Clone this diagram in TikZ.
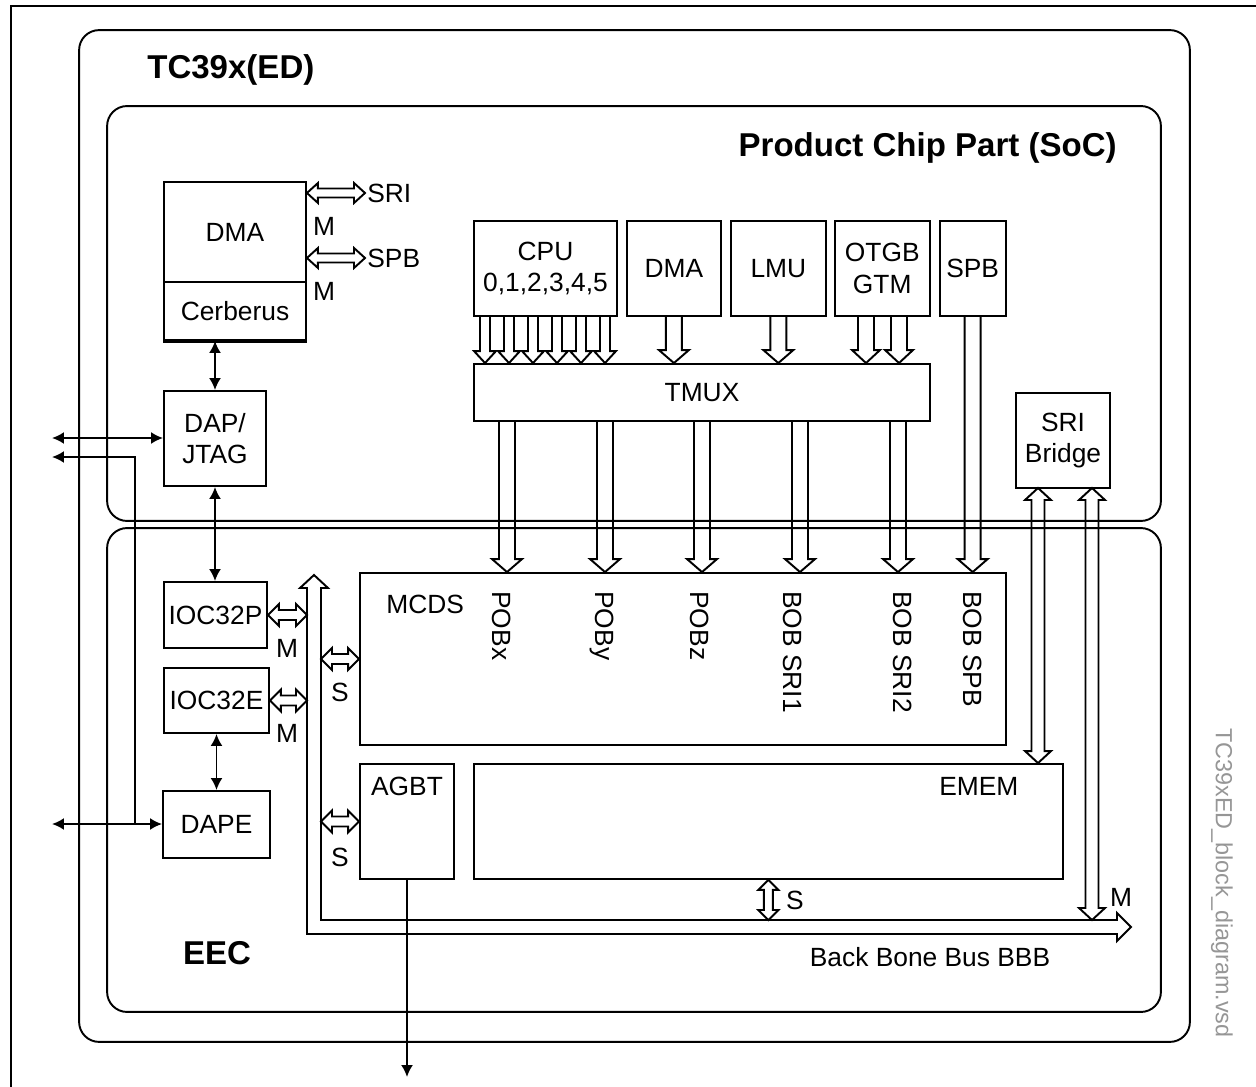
\documentclass[tikz,border=0pt]{standalone}
\usepackage{fontspec}
\setmainfont{Liberation Sans}
\usetikzlibrary{positioning, arrows.meta, calc}
\definecolor{vsdgray}{RGB}{150,150,150}
\tikzset{block/.style={rectangle, draw, line width=1.1pt, inner sep=0pt, text centered, align=center}}
\tikzset{area/.style={rectangle, draw, line width=1.1pt, rounded corners=0.4cm}}
\tikzset{line/.style={draw, line width=1.1pt, >={Latex[length=0.24cm, width=0.24cm]}}}
\tikzset{busline/.style={draw, line width=1.1pt, line join=miter}}
\tikzset{lbl/.style={inner sep=0pt}}
\tikzset{vlbl/.style={rotate=-90, anchor=west, inner sep=0pt}}
\tikzstyle{title} = [inner sep=0pt, font=\fontsize{18.8}{22}\selectfont\bfseries]
% hollow bus arrow, head at the target: shaft half width, head half width, head length
\tikzset{sbus/.style n args={3}{to path={
  ($(\tikztostart)!#1!90:(\tikztotarget)$)
  -- ($(\tikztotarget)!#3!(\tikztostart)!#1!-90:(\tikztostart)$)
  -- ($(\tikztotarget)!#3!(\tikztostart)!#2!-90:(\tikztostart)$)
  -- (\tikztotarget)
  -- ($(\tikztotarget)!#3!(\tikztostart)!#2!90:(\tikztostart)$)
  -- ($(\tikztotarget)!#3!(\tikztostart)!#1!90:(\tikztostart)$)
  -- ($(\tikztostart)!#1!-90:(\tikztotarget)$)}}}
% hollow bus arrow, heads at both ends
\tikzset{dbus/.style n args={3}{to path={
  (\tikztostart)
  -- ($(\tikztostart)!#3!(\tikztotarget)!#2!90:(\tikztotarget)$)
  -- ($(\tikztostart)!#3!(\tikztotarget)!#1!90:(\tikztotarget)$)
  -- ($(\tikztotarget)!#3!(\tikztostart)!#1!-90:(\tikztostart)$)
  -- ($(\tikztotarget)!#3!(\tikztostart)!#2!-90:(\tikztostart)$)
  -- (\tikztotarget)
  -- ($(\tikztotarget)!#3!(\tikztostart)!#2!90:(\tikztostart)$)
  -- ($(\tikztotarget)!#3!(\tikztostart)!#1!90:(\tikztostart)$)
  -- ($(\tikztostart)!#3!(\tikztotarget)!#1!-90:(\tikztotarget)$)
  -- ($(\tikztostart)!#3!(\tikztotarget)!#2!-90:(\tikztotarget)$)
  -- cycle}}}

\begin{document}
\begin{tikzpicture}[x=0.02cm, y=-0.02cm, font=\fontsize{15}{18}\selectfont]
\useasboundingbox (0,0) rectangle (1256,1087);
\draw[line width=0.8pt] (11,1087) -- (11,6) -- (1256,6);
% containers
\node[area, minimum width=22.22cm, minimum height=20.24cm] (chip) at (634.5,536) {};
\node[area, minimum width=21.08cm, minimum height=8.3cm] (soc) at (634,313.5) {};
\node[area, minimum width=21.08cm, minimum height=9.68cm] (eec) at (634,770) {};
\node[title, anchor=west] (tchip) at (147,70) {TC39x(ED)};
\node[title, anchor=east] (tsoc) at (1117,148) {Product Chip Part (SoC)};
\node[title] (teec) at (217,953) {EEC};
% product chip part
\node[block, minimum width=2.84cm, minimum height=2cm] (dma) at (235,232) {DMA};
\node[block, minimum width=2.84cm, minimum height=1.16cm, below=-1.1pt of dma] (cerb) {Cerberus};
\draw[line width=2.2pt] (cerb.south west) -- (cerb.south east);
\node[block, minimum width=2.04cm, minimum height=1.9cm] (dap) at (215,438.5) {DAP/\\JTAG};
\node[block, minimum width=2.86cm, minimum height=1.9cm] (cpu) at (545.5,268.5) {CPU\\0,1,2,3,4,5};
\node[block, minimum width=1.88cm, minimum height=1.9cm, right=0.16cm of cpu] (dmb) {DMA};
\node[block, minimum width=1.9cm, minimum height=1.9cm, right=0.16cm of dmb] (lmu) {LMU};
\node[block, minimum width=1.9cm, minimum height=1.9cm, right=0.14cm of lmu] (otgb) {OTGB\\GTM};
\node[block, minimum width=1.32cm, minimum height=1.9cm, right=0.16cm of otgb] (spb) {SPB};
\node[block, minimum width=9.12cm, minimum height=1.14cm] (tmux) at (702,392.5) {TMUX};
\node[block, minimum width=1.88cm, minimum height=1.9cm] (bridge) at (1063,440.5) {SRI\\Bridge};
% EEC
\node[block, minimum width=2.06cm, minimum height=1.32cm] (ioc32p) at (215.5,615) {IOC32P};
\node[block, minimum width=2.1cm, minimum height=1.3cm] (ioc32e) at (216.5,700.5) {IOC32E};
\node[block, minimum width=2.14cm, minimum height=1.34cm] (dape) at (216.5,824.5) {DAPE};
\node[block, minimum width=12.92cm, minimum height=3.44cm] (mcds) at (683,659) {};
\node[lbl, below right=0.46cm and 0.54cm of mcds.north west] (tmcds) {MCDS};
\node[block, minimum width=1.88cm, minimum height=2.3cm] (agbt) at (407,821.5) {};
\node[lbl, below=0.28cm of agbt.north] (tagbt) {AGBT};
\node[block, minimum width=11.78cm, minimum height=2.3cm, right=0.36cm of agbt] (emem) {};
\node[lbl, below left=0.28cm and 0.9cm of emem.north east] (temem) {EMEM};
\node[vlbl] (pobx) at (502,591) {POBx};
\node[vlbl] (poby) at (602,591) {POBy};
\node[vlbl] (pobz) at (700,591) {POBz};
\node[vlbl] (bsri1) at (793,591) {BOB SRI1};
\node[vlbl] (bsri2) at (903,591) {BOB SRI2};
\node[vlbl] (bspb) at (973,591) {BOB SPB};
% back bone bus
\coordinate (bbbtop) at (314,575);
\coordinate (bbbend) at (1131,927);
\coordinate (busL) at (307,600);
\coordinate (busR) at (321,600);
\coordinate (busT) at (700,920);
\draw[busline] (bbbtop) -- ++(-14,13) -- ++(7,0) |- ($(bbbend)+(-14,7)$) -- ++(0,7) -- (bbbend)
  -- ++(-14,-14) -- ++(0,7) -| ($(bbbtop)+(7,13)$) -- ++(7,0) -- cycle;
\node[lbl] (tbbb) at (930,957) {Back Bone Bus BBB};
% debug lines
\coordinate (jtagL) at (52,438);
\coordinate (tapL) at (52,457);
\coordinate (tapJ) at (135,824);
\coordinate (dapeL) at (52,824);
\coordinate (aout) at (408,1077);
\path[line, <->] (jtagL) -- (jtagL -| dap.west);
\path[line, ->] (tapJ) |- (tapL);
\path[line, <->] (dapeL) -- (dapeL -| dape.west);
\path[line, <->] (dap.north |- cerb.south) -- (dap.north);
\path[line, <->] (dap.south) -- (dap.south |- ioc32p.north);
\path[line, <->] (ioc32e.south) -- (ioc32e.south |- dape.north);
\path[line, ->] (agbt.south) -- (agbt.south |- aout);
% trace buses into TMUX
\coordinate (c1) at (485,316);
\coordinate (c2) at (509,316);
\coordinate (c3) at (533,316);
\coordinate (c4) at (557,316);
\coordinate (c5) at (581,316);
\coordinate (c6) at (605,316);
\coordinate (g1) at (866,316);
\coordinate (g2) at (899,316);
\draw[busline] (c1) to[sbus={0.1cm}{0.22cm}{0.24cm}] (c1 |- tmux.north);
\draw[busline] (c2) to[sbus={0.1cm}{0.22cm}{0.24cm}] (c2 |- tmux.north);
\draw[busline] (c3) to[sbus={0.1cm}{0.22cm}{0.24cm}] (c3 |- tmux.north);
\draw[busline] (c4) to[sbus={0.1cm}{0.22cm}{0.24cm}] (c4 |- tmux.north);
\draw[busline] (c5) to[sbus={0.1cm}{0.22cm}{0.24cm}] (c5 |- tmux.north);
\draw[busline] (c6) to[sbus={0.1cm}{0.22cm}{0.24cm}] (c6 |- tmux.north);
\draw[busline] (dmb.south) to[sbus={0.16cm}{0.3cm}{0.26cm}] (dmb.south |- tmux.north);
\draw[busline] (lmu.south) to[sbus={0.16cm}{0.3cm}{0.26cm}] (lmu.south |- tmux.north);
\draw[busline] (g1) to[sbus={0.16cm}{0.28cm}{0.26cm}] (g1 |- tmux.north);
\draw[busline] (g2) to[sbus={0.16cm}{0.28cm}{0.26cm}] (g2 |- tmux.north);
% TMUX into MCDS
\coordinate (t1) at (507,421);
\coordinate (t2) at (605,421);
\coordinate (t3) at (702,421);
\coordinate (t4) at (800,421);
\coordinate (t5) at (898,421);
\draw[busline] (t1) to[sbus={0.16cm}{0.3cm}{0.26cm}] (t1 |- mcds.north);
\draw[busline] (t2) to[sbus={0.16cm}{0.3cm}{0.26cm}] (t2 |- mcds.north);
\draw[busline] (t3) to[sbus={0.16cm}{0.3cm}{0.26cm}] (t3 |- mcds.north);
\draw[busline] (t4) to[sbus={0.16cm}{0.3cm}{0.26cm}] (t4 |- mcds.north);
\draw[busline] (t5) to[sbus={0.16cm}{0.3cm}{0.26cm}] (t5 |- mcds.north);
\draw[busline] (spb.south) to[sbus={0.16cm}{0.3cm}{0.26cm}] (spb.south |- mcds.north);
% SRI bridge
\coordinate (b1) at (1038,488);
\coordinate (b2) at (1092,488);
\draw[busline] (b1) to[dbus={0.13cm}{0.26cm}{0.24cm}] (b1 |- emem.north);
\draw[busline] (b2) to[dbus={0.13cm}{0.26cm}{0.24cm}] (b2 |- busT);
% master and slave ports
\coordinate (sriR) at (365,193);
\coordinate (spbR) at (365,258);
\draw[busline] (dma.east |- sriR) to[dbus={0.09cm}{0.2cm}{0.22cm}] (sriR);
\draw[busline] (dma.east |- spbR) to[dbus={0.09cm}{0.2cm}{0.22cm}] (spbR);
\draw[busline] (ioc32p.east) to[dbus={0.1cm}{0.22cm}{0.22cm}] (ioc32p.east -| busL);
\draw[busline] (ioc32e.east) to[dbus={0.1cm}{0.22cm}{0.22cm}] (ioc32e.east -| busL);
\draw[busline] (mcds.west -| busR) to[dbus={0.1cm}{0.22cm}{0.22cm}] (mcds.west);
\draw[busline] (agbt.west -| busR) to[dbus={0.1cm}{0.22cm}{0.22cm}] (agbt.west);
\draw[busline] (emem.south) to[dbus={0.09cm}{0.2cm}{0.2cm}] (emem.south |- busT);
\node[lbl, anchor=west] (lsri) at (367,193) {SRI};
\node[lbl, anchor=west] (lspb) at (367,258) {SPB};
\node[lbl] (msri) at (324,226) {M};
\node[lbl] (mspb) at (324,291) {M};
\node[lbl] (mp) at (287,648) {M};
\node[lbl] (me) at (287,733) {M};
\node[lbl] (smcds) at (340,692) {S};
\node[lbl] (sagbt) at (340,857) {S};
\node[lbl] (semem) at (795,900) {S};
\node[lbl] (mbri) at (1121,897) {M};
\node[vlbl, text=vsdgray, font=\fontsize{13.3}{16}\selectfont] (vsd) at (1222,728) {TC39xED\_block\_diagram.vsd};
\end{tikzpicture}
\end{document}
